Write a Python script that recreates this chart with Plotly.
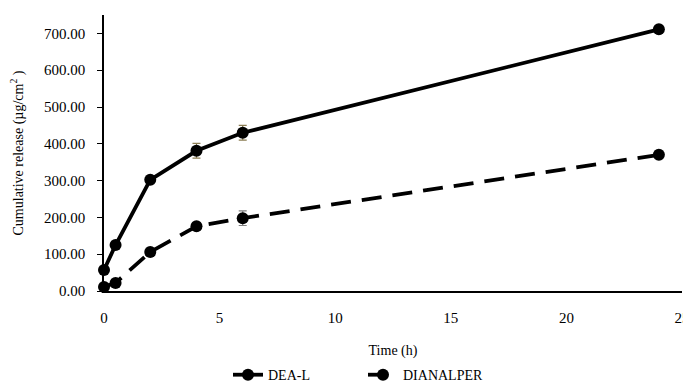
import plotly.graph_objects as go

time_h = [0, 0.5, 2, 4, 6, 24]
dea_l = [57, 125, 302, 381, 430, 711]
dea_l_err = [4, 4, 5, 20, 20, 5]
dianalper = [11, 22, 106, 176, 198, 370]
dianalper_err = [3, 3, 5, 5, 20, 5]

y_ticks = [0, 100, 200, 300, 400, 500, 600, 700]
x_ticks = [0, 5, 10, 15, 20, 25]

font = "Liberation Serif"

fig = go.Figure()
fig.add_trace(go.Scatter(
    x=time_h, y=dea_l, name="DEA-L", mode="lines+markers",
    line=dict(color="black", width=3.8, dash="solid"),
    marker=dict(color="black", size=12),
    error_y=dict(type="data", array=dea_l_err, color="#8c7e54", thickness=1.2, width=4),
    cliponaxis=False,
))
fig.add_trace(go.Scatter(
    x=time_h, y=dianalper, name="DIANALPER", mode="lines+markers",
    line=dict(color="black", width=3.8, dash="20px,11px"),
    marker=dict(color="black", size=12),
    error_y=dict(type="data", array=dianalper_err, color="#7f7f7f", thickness=1.2, width=4),
    cliponaxis=False,
))

# page body has an 8px default margin, so the figure is sized to fit inside the window
fig.update_layout(
    width=683, height=384,
    margin=dict(l=96, r=9, t=7, b=101),
    plot_bgcolor="white", paper_bgcolor="white",
    font=dict(family=font, size=15, color="black"),
    showlegend=True,
    legend=dict(orientation="h", x=220 / 683, xanchor="left", xref="container",
                y=0.044, yanchor="middle", yref="container",
                font=dict(family=font, size=14), entrywidth=90, entrywidthmode="pixels"),
    xaxis=dict(range=[0, 25], tickvals=x_ticks, showline=True, linecolor="black", linewidth=1.5,
               showgrid=False, zeroline=False, ticks="", ticklen=0, automargin=False,
               ticklabelstandoff=12, ticklabeloverflow="allow",
               title=dict(text="Time (h)", font=dict(family=font, size=14), standoff=21),
               tickfont=dict(family=font, size=15)),
    yaxis=dict(range=[0, 750], tickvals=y_ticks, tickformat=".2f", showline=True, linecolor="black",
               linewidth=1.5, showgrid=False, zeroline=False, ticks="outside", ticklen=5,
               tickcolor="black", automargin=False, ticklabelstandoff=9,
               title=dict(text="Cumulative release (µg/cm<sup>2</sup> )", font=dict(family=font, size=14), standoff=20),
               tickfont=dict(family=font, size=15)),
)

fig.write_html("out.html")
